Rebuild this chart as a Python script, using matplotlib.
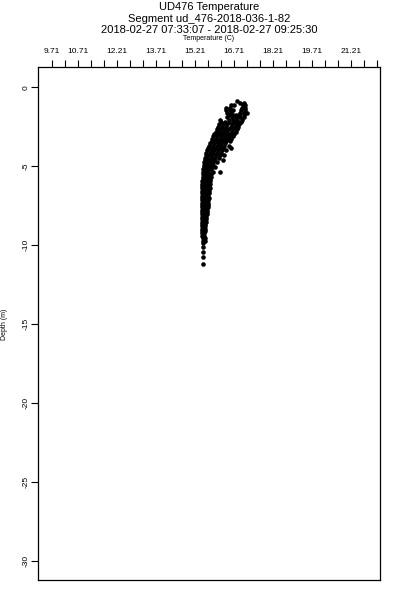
import numpy as np
import matplotlib
matplotlib.use("Agg")
import matplotlib.pyplot as plt

plt.rcParams['font.family'] = ['Liberation Sans', 'DejaVu Sans']

title_lines = ["UD476 Temperature",
               "Segment ud_476-2018-036-1-82",
               "2018-02-27 07:33:07 - 2018-02-27 09:25:30"]
xlabel = "Temperature (C)"
ylabel = "Depth (m)"

# tick marks every 0.5 C, labels only at these
xtick_pos = [9.71 + 0.5 * k for k in range(26)]
xtick_label_pos = [9.71, 10.71, 12.21, 13.71, 15.21, 16.71, 18.21, 19.71, 21.21]
ytick_pos = [0, -5, -10, -15, -20, -25, -30]

# depth of each row of samples and the temperatures read at that depth
row_depth = [-0.87, -1.0, -1.15, -1.3, -1.45, -1.6, -1.75, -1.9, -2.05, -2.2,
             -2.35, -2.5, -2.65, -2.8, -2.95, -3.1, -3.25, -3.4, -3.55, -3.7,
             -3.85, -4.0, -4.15, -4.3, -4.45, -4.6, -4.75, -4.9, -5.05, -5.2,
             -5.35, -5.5, -5.65, -5.8, -5.95, -6.1, -6.25, -6.4, -6.55, -6.7,
             -6.85, -7.0, -7.15, -7.3, -7.45, -7.6, -7.75, -7.9, -8.05, -8.2,
             -8.35, -8.5, -8.65, -8.8, -8.95, -9.1, -9.25, -9.4, -9.55, -9.7,
             -9.85, -10.1, -10.42, -10.72, -11.17]
row_temps = [
    [16.81],
    [16.95, 17.08],
    [16.58, 16.72, 17.05, 17.15],
    [16.42, 16.56, 17.00, 17.15],
    [16.40, 16.55, 16.68, 16.98, 17.12],
    [16.45, 16.60, 16.95, 17.10, 17.20],
    [16.50, 16.66, 16.80, 16.92, 17.08],
    [16.45, 16.62, 16.78, 16.95, 17.10],
    [16.18, 16.50, 16.66, 16.82, 17.00],
    [16.20, 16.35, 16.52, 16.70, 16.86, 16.98],
    [16.15, 16.30, 16.46, 16.62, 16.80, 16.92],
    [16.10, 16.25, 16.40, 16.58, 16.74, 16.88],
    [16.05, 16.20, 16.36, 16.52, 16.68, 16.82],
    [16.00, 16.15, 16.30, 16.46, 16.62, 16.78],
    [15.96, 16.10, 16.25, 16.40, 16.56, 16.72],
    [15.92, 16.06, 16.20, 16.36, 16.52, 16.66],
    [15.88, 16.02, 16.16, 16.30, 16.46, 16.60],
    [15.85, 15.98, 16.12, 16.26, 16.40, 16.56],
    [15.80, 15.94, 16.08, 16.22, 16.36],
    [15.76, 15.90, 16.04, 16.18, 16.32, 16.52],
    [15.72, 15.86, 16.00, 16.14, 16.28, 16.58],
    [15.68, 15.82, 15.96, 16.10, 16.24, 16.40],
    [15.65, 15.78, 15.92, 16.06, 16.20],
    [15.62, 15.75, 15.88, 16.02, 16.18, 16.34],
    [15.60, 15.72, 15.85, 15.98, 16.12],
    [15.58, 15.70, 15.82, 15.94, 16.28],
    [15.56, 15.68, 15.80, 15.92, 16.05],
    [15.55, 15.66, 15.78, 15.90],
    [15.54, 15.65, 15.76, 15.88, 15.98],
    [15.53, 15.64, 15.74, 15.84],
    [15.52, 15.62, 15.72, 15.92, 16.18],
    [15.52, 15.62, 15.72, 15.82],
    [15.51, 15.61, 15.71, 15.82],
    [15.51, 15.60, 15.70, 15.80],
    [15.50, 15.60, 15.70, 15.78],
    [15.50, 15.60, 15.70, 15.78],
    [15.50, 15.59, 15.68, 15.76],
    [15.50, 15.59, 15.68, 15.78],
    [15.49, 15.58, 15.68, 15.76],
    [15.49, 15.58, 15.67, 15.74],
    [15.49, 15.58, 15.66, 15.72],
    [15.49, 15.57, 15.66, 15.74],
    [15.49, 15.57, 15.65, 15.72],
    [15.48, 15.56, 15.64, 15.70],
    [15.48, 15.56, 15.64, 15.71],
    [15.48, 15.56, 15.63, 15.70],
    [15.48, 15.55, 15.62, 15.68],
    [15.48, 15.55, 15.62, 15.67],
    [15.48, 15.55, 15.62, 15.66],
    [15.48, 15.55, 15.61, 15.65],
    [15.48, 15.54, 15.60, 15.64],
    [15.48, 15.54, 15.60, 15.63],
    [15.48, 15.54, 15.60],
    [15.49, 15.55, 15.61],
    [15.49, 15.55, 15.60],
    [15.50, 15.56, 15.60],
    [15.50, 15.56],
    [15.50, 15.57],
    [15.51, 15.58],
    [15.52, 15.58],
    [15.53],
    [15.52],
    [15.52],
    [15.52],
    [15.51],
]

temperature = [t for temps in row_temps for t in temps]
depth = [d for d, temps in zip(row_depth, row_temps) for t in temps]

# -------------------------------------------------------------
fig = plt.figure(figsize=(4, 6), dpi=100)
ax = fig.add_axes([0.095, 0.0333, 0.855, 0.855])

ax.plot(temperature, depth, 'o', color='black', ms=3.3, mec='black', mew=0)

ax.set_xlim(9.18, 22.32)
ax.set_ylim(-31.18, 1.28)

ax.xaxis.tick_top()
ax.set_xticks(xtick_pos)
ax.set_xticklabels([("%.2f" % p if any(abs(p - q) < 1e-6 for q in xtick_label_pos) else "")
                    for p in xtick_pos])
ax.tick_params(axis='x', direction='out', length=5, width=0.8, pad=3.5, labelsize=6)

ax.set_yticks(ytick_pos)
ax.set_yticklabels([str(v) for v in ytick_pos], rotation=90, va='center')
ax.tick_params(axis='y', direction='out', length=5, width=0.8, pad=1, labelsize=6)

for s in ax.spines.values():
    s.set_linewidth(0.9)

cx = 209 / 400
fig.text(cx, 1 - 7 / 600, title_lines[0], ha='center', va='center', fontsize=8)
fig.text(cx, 1 - 18.5 / 600, title_lines[1], ha='center', va='center', fontsize=8)
fig.text(cx, 1 - 30 / 600, title_lines[2], ha='center', va='center', fontsize=8)
fig.text(cx, 1 - 39 / 600, xlabel, ha='center', va='center', fontsize=5)
fig.text(5 / 400, 1 - 324 / 600, ylabel, ha='center', va='center', fontsize=5, rotation=90)

fig.savefig("out.png", dpi=100)
